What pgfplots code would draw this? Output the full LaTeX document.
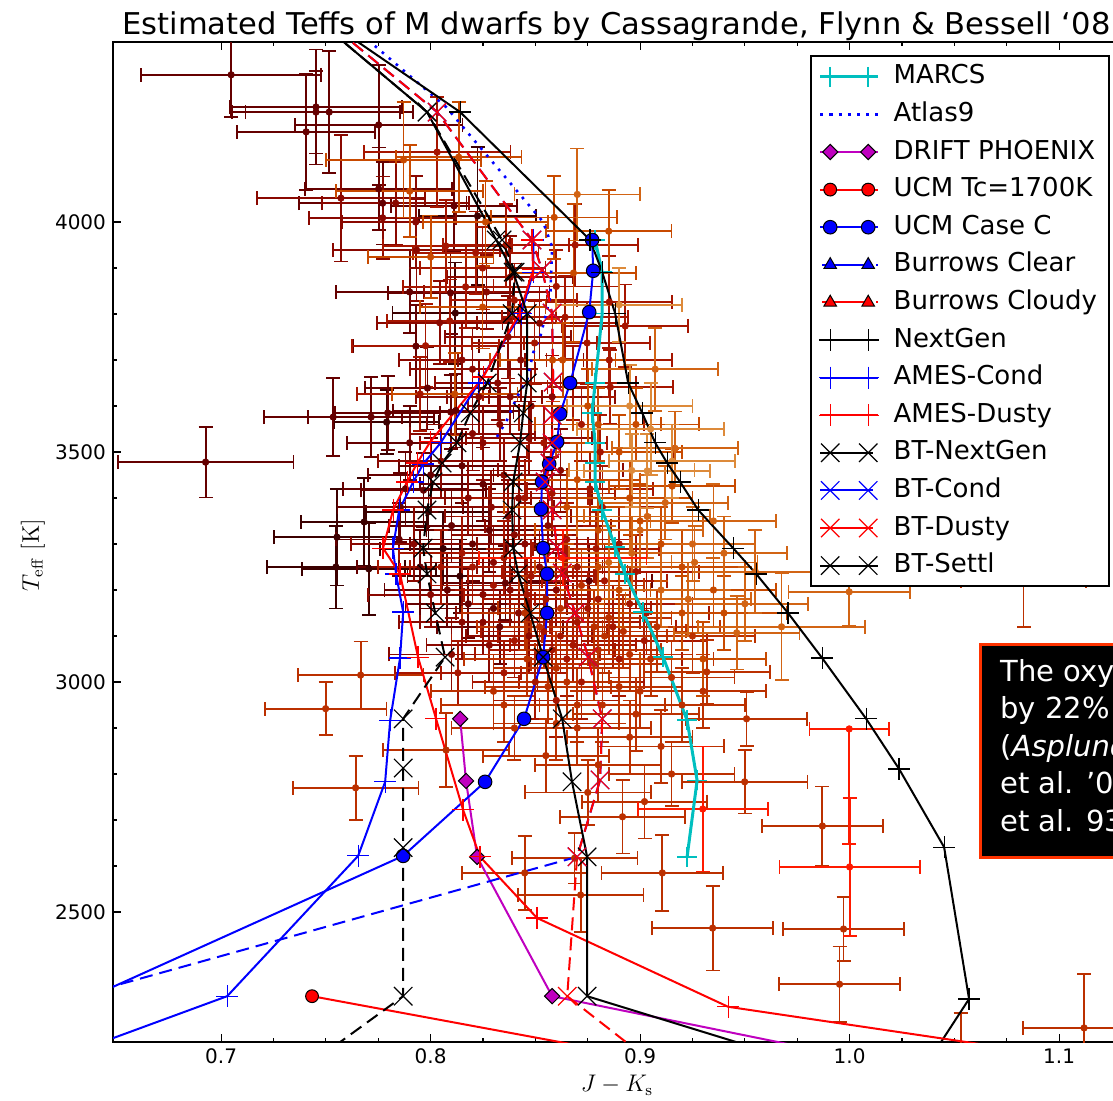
\documentclass[border=0pt]{standalone}
\usepackage{pgfplots}
\pgfplotsset{compat=1.18}
\usepackage{pgfplotstable}
\usepackage[no-math]{fontspec}
\setmainfont{DejaVu Sans}
\usepackage{graphicx}

\definecolor{cA}{HTML}{3C0000}
\definecolor{cB}{HTML}{650000}
\definecolor{cC}{HTML}{8A0800}
\definecolor{cD}{HTML}{A61500}
\definecolor{cE}{HTML}{BB3000}
\definecolor{cF}{HTML}{C84A00}
\definecolor{cG}{HTML}{D26414}
\definecolor{cH}{HTML}{DD8A3A}
\definecolor{cR}{HTML}{FF1A00}
\definecolor{mcyan}{HTML}{00BFBF}
\definecolor{mmag}{HTML}{BF00BF}
\definecolor{boxred}{HTML}{FF3300}

\pgfplotstableread{
x y ex ey
0.7553 3315 0.030 105
0.7548 3250 0.033 90
0.7705 3246 0.032 100
0.7683 3348 0.030 95
0.7790 3565 0.025 70
0.7990 3370 0.030 80
0.8224 4013 0.028 150
0.8060 3290 0.030 80
0.8140 3230 0.025 80
0.8118 3802 0.030 110
}\dA
\pgfplotstableread{
x y ex ey
0.7048 4320 0.043 92
0.7453 4250 0.041 125
0.7453 4239 0.040 90
0.7516 4239 0.040 133
0.7406 4196 0.033 127
0.7752 4211 0.040 130
0.7752 4072 0.035 90
0.7771 4041 0.040 90
0.8112 4035 0.030 100
0.7900 3848 0.035 90
0.8095 3846 0.030 90
0.7535 3576 0.033 85
0.7716 3576 0.030 87
0.7985 3639 0.030 90
0.6926 3478 0.042 77
0.7900 3520 0.030 80
0.7966 3417 0.030 80
0.7856 3380 0.030 75
0.8096 3587 0.030 80
0.7795 3585 0.025 80
0.8150 3470 0.030 80
0.8280 3330 0.030 90
0.8250 3430 0.030 80
0.7930 3730 0.030 90
0.8357 3215 0.030 80
0.8757 3220 0.030 80
0.8120 3590 0.030 80
0.8300 3160 0.035 70
0.8200 3300 0.030 80
0.7950 3250 0.030 80
0.7850 3310 0.030 80
0.8100 3340 0.030 80
0.8000 3450 0.030 80
0.8180 3170 0.030 75
0.8330 3120 0.030 80
0.8080 3200 0.030 80
0.7880 3420 0.030 80
}\dB
\pgfplotstableread{
x y ex ey
0.7833 4041 0.035 90
0.7929 4000 0.035 100
0.7933 3939 0.040 110
0.7572 4052 0.040 138
0.7771 4009 0.035 90
0.8043 3781 0.030 90
0.8430 3700 0.030 90
0.8380 3620 0.030 80
0.8330 3560 0.035 80
0.8200 3680 0.030 90
0.8250 3520 0.030 80
0.8350 3450 0.030 80
0.8420 3400 0.035 90
0.8180 3400 0.030 80
0.8300 3260 0.030 80
0.8450 3300 0.030 90
0.8380 3200 0.030 80
0.8470 3100 0.030 80
0.8250 3130 0.030 70
0.8600 3200 0.030 80
0.8560 3340 0.030 80
0.8620 3460 0.030 90
0.8580 3620 0.030 90
0.8100 3060 0.030 80
0.8000 3190 0.030 70
0.8230 3620 0.030 80
0.8370 3750 0.030 90
0.8150 3700 0.030 80
0.8050 3480 0.030 80
0.7920 3300 0.030 80
0.8320 3650 0.030 80
0.8470 3530 0.030 80
0.8400 3320 0.030 80
0.8250 3190 0.030 80
0.8520 3780 0.030 80
0.8380 3880 0.030 90
0.8267 3848 0.030 80
0.8420 3150 0.030 80
0.8520 3250 0.030 80
0.8280 3080 0.030 80
0.8150 3130 0.030 80
0.8370 3360 0.030 80
0.8200 3540 0.030 80
0.8480 3600 0.030 80
0.8290 3380 0.030 80
}\dC
\pgfplotstableread{
x y ex ey
0.8031 4152 0.035 120
0.8072 3948 0.030 100
0.8215 3933 0.030 90
0.8248 3900 0.030 90
0.7976 3731 0.035 90
0.8091 3785 0.030 90
0.8167 3859 0.030 90
0.8496 3737 0.030 90
0.8642 3793 0.030 90
0.8853 3826 0.030 100
0.8747 3737 0.030 90
0.8929 3774 0.030 90
0.8853 3700 0.030 80
0.8858 3641 0.030 80
0.8810 3500 0.035 80
0.8760 3420 0.030 80
0.8820 3380 0.030 90
0.8900 3300 0.030 80
0.8700 3250 0.030 80
0.8800 3180 0.030 80
0.8870 3120 0.030 90
0.8650 3050 0.030 80
0.8500 3000 0.030 80
0.8600 2960 0.030 80
0.8350 3020 0.030 70
0.8720 3000 0.030 80
0.8900 3050 0.030 80
0.8450 3400 0.030 80
0.8540 3520 0.030 80
0.8680 3650 0.030 80
0.8400 3830 0.030 80
0.8360 3950 0.030 90
0.8690 3950 0.030 90
0.8980 3240 0.030 80
0.9030 3150 0.030 90
0.8130 3020 0.030 70
0.8580 3410 0.030 80
0.8200 3250 0.030 80
0.8350 3270 0.030 80
0.8480 3230 0.030 80
0.8550 3180 0.030 80
0.8620 3100 0.030 80
0.8750 3160 0.030 80
0.8830 3220 0.030 80
0.8680 3080 0.030 80
0.8580 3070 0.030 80
0.8400 3090 0.030 80
0.8300 3210 0.030 80
0.8150 3280 0.030 80
0.8050 3250 0.030 80
0.8950 3170 0.030 80
0.9020 3090 0.030 80
0.8600 3860 0.030 80
0.7950 3626 0.030 80
0.8540 3110 0.030 80
0.8700 3130 0.030 80
0.8460 3190 0.030 80
0.8640 3240 0.030 80
0.8790 3290 0.030 80
0.8510 3060 0.030 80
0.8720 3560 0.030 80
0.8650 3310 0.030 80
}\dD
\pgfplotstableread{
x y ex ey
0.7666 3015 0.030 73
0.7499 2942 0.029 58
0.7642 2770 0.030 70
0.8074 2852 0.030 80
0.8687 2617 0.030 55
0.8449 2585 0.030 80
0.8716 2537 0.030 80
0.8916 2707 0.030 80
0.9021 2740 0.030 80
0.9318 3022 0.030 70
0.9508 2920 0.029 59
0.9499 2783 0.030 69
0.9870 2687 0.029 86
0.9106 2585 0.029 83
0.9346 2465 0.029 92
0.9971 2463 0.029 69
0.9952 2343 0.029 82
1.1119 2248 0.029 118
1.0530 2150 0.030 130
1.0830 3220 0.030 100
0.8950 2880 0.030 80
0.9200 2950 0.030 80
0.8800 2820 0.030 80
0.8550 2840 0.030 80
0.8700 2900 0.035 80
0.8400 2900 0.030 70
0.9100 2860 0.030 80
0.9300 2980 0.030 80
0.8820 2950 0.030 80
0.9000 2980 0.030 80
0.8600 3030 0.030 80
0.8800 3070 0.030 80
0.9050 3050 0.030 80
0.9150 3010 0.030 80
0.8450 3150 0.030 80
0.9250 3100 0.030 80
0.8300 2980 0.030 80
0.9150 2800 0.030 70
0.8750 2760 0.030 70
0.8720 3210 0.030 80
0.8850 3140 0.030 80
0.8950 3060 0.030 80
0.8650 3000 0.030 80
0.8520 3120 0.030 80
0.8780 3040 0.030 80
0.8600 2910 0.030 80
0.8900 2990 0.030 80
0.9080 3120 0.030 80
0.8460 3050 0.030 80
0.8350 2950 0.030 80
0.8780 3120 0.030 80
0.8620 3160 0.030 80
0.8830 3100 0.030 80
0.8560 2990 0.030 80
0.8920 3110 0.030 80
0.8700 2950 0.030 80
0.8980 2930 0.030 80
}\dE
\pgfplotstableread{
x y ex ey
0.7871 4135 0.037 125
0.7900 4067 0.035 100
0.8000 3924 0.030 90
0.8248 3815 0.030 90
0.8262 4000 0.030 90
0.8134 4141 0.030 120
0.8115 3626 0.030 90
0.9153 3426 0.030 80
0.9000 3350 0.030 80
0.9100 3300 0.030 80
0.9200 3250 0.030 80
0.9350 3200 0.030 80
0.9400 3150 0.030 80
0.9300 3050 0.030 80
0.9200 3150 0.030 80
0.8900 3200 0.030 80
0.8800 3250 0.030 80
0.8950 3400 0.030 80
0.8682 3889 0.030 150
0.8582 3700 0.030 90
0.8800 3330 0.030 80
0.8900 3500 0.030 80
0.8700 3440 0.030 80
0.8650 3380 0.030 80
0.8750 3600 0.030 80
0.8630 3700 0.030 80
0.8800 3560 0.030 80
0.8980 3560 0.030 80
0.8850 3980 0.030 90
0.8590 4010 0.030 90
}\dF
\pgfplotstableread{
x y ex ey
0.9072 3680 0.030 90
0.9167 3508 0.030 80
0.9034 3360 0.030 90
0.9000 3330 0.030 80
0.9260 3260 0.030 80
0.9998 3196 0.029 73
0.9675 3120 0.040 116
0.9461 3107 0.030 80
0.9550 3240 0.030 90
0.9500 3170 0.030 80
0.9250 3300 0.030 80
0.8850 3260 0.030 80
0.8960 3280 0.030 80
0.9120 3390 0.030 80
0.9350 3350 0.030 80
0.9100 3200 0.030 80
0.9230 3180 0.030 80
0.9400 3280 0.030 80
0.8700 4060 0.030 100
}\dG
\pgfplotstableread{
x y ex ey
0.9153 3480 0.030 80
0.9034 3459 0.030 80
0.8960 3460 0.030 80
0.9050 3550 0.035 100
0.8950 3600 0.030 90
0.8900 3820 0.030 80
}\dH
\pgfplotstableread{
x y ex ey
0.9299 2724 0.031 136
1.0000 2598 0.0335 150
0.8630 3270 0.040 60
}\dR

\pgfplotsset{
  databars/.style={forget plot, only marks, color=#1, mark=*, mark size=1.6pt,
    error bars/.cd, x dir=both, x explicit, y dir=both, y explicit,
    error bar style={line width=0.9pt},
    error mark options={rotate=90, mark size=3.5pt, line width=0.9pt}},
}

\begin{document}
\begin{tikzpicture}
\useasboundingbox (-56.5pt,-29pt) rectangle (500pt,521pt);
\begin{scope}
\clip (-56.5pt,-29pt) rectangle (500pt,521pt);
\begin{axis}[
  at={(0pt,0pt)}, anchor=south west, scale only axis,
  width=513.5pt, height=500pt,
  xmin=0.6484, xmax=1.1386, ymin=2217.4, ymax=4391.3,
  xtick={0.7,0.8,0.9,1.0,1.1}, ytick={2500,3000,3500,4000},
  minor x tick num=3, minor y tick num=4,
  tick align=inside, tick pos=both,
  major tick length=4pt, minor tick length=2pt,
  every tick/.append style={black, line width=0.6pt},
  axis line style={line width=1pt},
  xticklabel style={/pgf/number format/fixed, /pgf/number format/fixed zerofill, /pgf/number format/precision=1},
  /pgf/number format/1000 sep={},
  /pgf/number format/assume math mode=true,
  tick label style={font=\fontsize{10}{12}\selectfont},
  legend cell align=left,
  legend style={at={(0.9708,0.987)}, anchor=north east, draw=black, line width=1pt, fill=white,
    font=\fontsize{13}{15}\selectfont, inner xsep=4pt, inner ysep=1pt, row sep=0pt, column sep=5pt,
    nodes={inner xsep=2pt, inner ysep=3.1pt, text height=9.8pt, text depth=2.8pt}},
  legend image code/.code={
    \path (-5pt,0pt) -- (24pt,0pt);
    \draw[mark repeat=2, mark phase=1, #1] plot coordinates {(0pt,0pt) (9.5pt,0pt) (19pt,0pt)};
  },
]
% ---- data
\addplot[databars=cA] table[x=x,y=y,x error=ex,y error=ey] {\dA};
\addplot[databars=cB] table[x=x,y=y,x error=ex,y error=ey] {\dB};
\addplot[databars=cC] table[x=x,y=y,x error=ex,y error=ey] {\dC};
\addplot[databars=cD] table[x=x,y=y,x error=ex,y error=ey] {\dD};
\addplot[databars=cE] table[x=x,y=y,x error=ex,y error=ey] {\dE};
\addplot[databars=cF] table[x=x,y=y,x error=ex,y error=ey] {\dF};
\addplot[databars=cG] table[x=x,y=y,x error=ex,y error=ey] {\dG};
\addplot[databars=cH] table[x=x,y=y,x error=ex,y error=ey] {\dH};
\addplot[databars=cR] table[x=x,y=y,x error=ex,y error=ey] {\dR};
\addplot[databars=cR] coordinates {(0.9998,2898) += (0.019,0) -= (0.019,250)};
% ---- models
\addplot[color=mcyan, line width=1.5pt, mark=+, mark size=5pt, mark options={line width=0.8pt}] coordinates {
(0.8785,3961) (0.8819,3891) (0.8819,3801) (0.8785,3650) (0.8771,3585) (0.8785,3520) (0.8785,3476) (0.8785,3435)
(0.8819,3374) (0.8881,3293) (0.8928,3235) (0.9014,3152) (0.9110,3054) (0.9224,2917) (0.9272,2786) (0.9224,2619)};
\addlegendentry{MARCS}
\addplot[blue, line width=1.3pt, dash pattern=on 1.3pt off 3.3pt] coordinates {
(0.7434,4500) (0.8074,4250) (0.8537,4000) (0.8580,3946) (0.8571,3837) (0.8523,3750) (0.8489,3715) (0.8461,3657)
(0.8413,3620) (0.8365,3570) (0.8308,3526)};
\addlegendentry{Atlas9}
\addplot[mmag, line width=1pt, mark=square*, mark size=2.7pt, mark options={rotate=45, fill=mmag, draw=black, line width=0.5pt}] coordinates {
(0.8141,2920) (0.8169,2785) (0.8222,2620) (0.8580,2317) (0.9845,2200)};
\addlegendentry{DRIFT PHOENIX}
\addplot[red, line width=1pt, mark=*, mark size=3.2pt, mark options={fill=red, draw=black, line width=0.5pt}] coordinates {
(0.7434,2317) (0.8823,2200)};
\addlegendentry{UCM Tc=1700K}
\addplot[blue, line width=1pt, mark=*, mark size=3.4pt, mark options={fill=blue, draw=black, line width=0.5pt}] coordinates {
(0.8771,3961) (0.8776,3894) (0.8757,3804) (0.8666,3650) (0.8618,3583) (0.8604,3522) (0.8566,3474) (0.8532,3435)
(0.8527,3376) (0.8537,3291) (0.8556,3235) (0.8556,3150) (0.8537,3054) (0.8446,2920) (0.8260,2783) (0.7869,2622) (0.6400,2320)};
\addlegendentry{UCM Case C}
\addlegendimage{blue, line width=1pt, dash pattern=on 5pt off 4pt, dash phase=-1pt, mark=triangle*, mark size=3.6pt, mark options={solid, fill=blue, draw=black, line width=0.5pt}}
\addlegendentry{Burrows Clear}
\addlegendimage{red, line width=1pt, dash pattern=on 5pt off 4pt, dash phase=-1pt, mark=triangle*, mark size=3.6pt, mark options={solid, fill=red, draw=black, line width=0.5pt}}
\addlegendentry{Burrows Cloudy}
\addplot[black, line width=1pt, mark=+, mark size=5.5pt, mark options={line width=0.6pt}] coordinates {
(0.7305,4500) (0.8141,4239) (0.8761,3961) (0.8819,3891) (0.8881,3801) (0.8943,3650) (0.9010,3585) (0.9072,3520)
(0.9129,3476) (0.9191,3435) (0.9277,3374) (0.9444,3291) (0.9554,3235) (0.9706,3150) (0.9869,3052) (1.0079,2920)
(1.0236,2811) (1.0451,2641) (1.0570,2311) (1.0380,2178)};
\addlegendentry{NextGen}
\addplot[blue, line width=1pt, mark=+, mark size=5.5pt, mark options={line width=0.6pt}] coordinates {
(0.8490,3961) (0.8490,3891) (0.8432,3801) (0.8230,3650) (0.8048,3520) (0.7965,3474) (0.7917,3435) (0.7850,3374)
(0.7820,3291) (0.7835,3235) (0.7869,3152) (0.7854,3052) (0.7807,2917) (0.7783,2783) (0.7654,2622) (0.7029,2317) (0.6330,2200)};
\addlegendentry{AMES-Cond}
\addplot[red, line width=1pt, mark=+, mark size=5.5pt, mark options={line width=0.6pt}] coordinates {
(0.8484,3961) (0.8489,3896) (0.8427,3804) (0.8251,3663) (0.7998,3522) (0.7936,3476) (0.7888,3435) (0.7821,3374)
(0.7773,3291) (0.7854,3235) (0.7940,3054) (0.8026,2920) (0.8155,2722) (0.8236,2620) (0.8508,2487) (0.9420,2294) (1.0814,2200)};
\addlegendentry{AMES-Dusty}
\addplot[black, line width=1pt, dash pattern=on 6.5pt off 3.5pt, mark=x, mark size=6.5pt, mark options={solid, line width=0.6pt}] coordinates {
(0.7301,4500) (0.7983,4239) (0.8341,3961) (0.8403,3891) (0.8389,3801) (0.8270,3650) (0.8189,3585) (0.8126,3520)
(0.8055,3476) (0.8012,3435) (0.7983,3374) (0.7964,3291) (0.7983,3235) (0.8022,3150) (0.8069,3054) (0.7869,2920)
(0.7869,2813) (0.7869,2640) (0.7869,2317) (0.7516,2200)};
\addlegendentry{BT-NextGen}
\addplot[blue, line width=1pt, dash pattern=on 6.5pt off 3.5pt, mark=x, mark size=6.5pt, mark options={solid, line width=0.6pt}] coordinates {
(0.7334,4500) (0.8031,4239) (0.8484,3961) (0.8532,3896) (0.8580,3802) (0.8585,3652) (0.8580,3580) (0.8580,3520)
(0.8570,3476) (0.8547,3435) (0.8580,3374) (0.8604,3293) (0.8628,3237) (0.8690,3150) (0.8752,3054) (0.8819,2920)
(0.8809,2787) (0.8699,2620) (0.6313,2317)};
\addlegendentry{BT-Cond}
\addplot[red, line width=1pt, dash pattern=on 6.5pt off 3.5pt, mark=x, mark size=6.5pt, mark options={solid, line width=0.6pt}] coordinates {
(0.7334,4500) (0.8031,4239) (0.8484,3961) (0.8532,3896) (0.8580,3802) (0.8585,3652) (0.8580,3580) (0.8580,3520)
(0.8570,3476) (0.8547,3435) (0.8580,3374) (0.8604,3293) (0.8628,3237) (0.8690,3150) (0.8752,3054) (0.8819,2920)
(0.8809,2787) (0.8699,2620) (0.8652,2317) (0.8981,2200)};
\addlegendentry{BT-Dusty}
\addplot[black, line width=1pt, mark=x, mark size=6.5pt, mark options={line width=0.6pt}] coordinates {
(0.7301,4500) (0.7983,4239) (0.8313,3961) (0.8394,3891) (0.8461,3801) (0.8461,3650) (0.8442,3585) (0.8427,3520)
(0.8394,3435) (0.8389,3374) (0.8394,3291) (0.8418,3235) (0.8475,3150) (0.8537,3054) (0.8628,2920) (0.8675,2783)
(0.8747,2620) (0.8747,2317) (0.9582,2200)};
\addlegendentry{BT-Settl}
\end{axis}
% title
\node[anchor=base west, inner sep=0pt] at (4.5pt,503.5pt)
  {\resizebox{494pt}{\height}{\fontsize{15}{18}\selectfont Estimated Teffs of M dwarfs by Cassagrande, Flynn \& Bessell ‘08}};
% axis labels
\node[rotate=90, font=\fontsize{12}{14}\selectfont] at (-40pt,243.5pt) {$T_{\mathrm{eff}}\ [\mathrm{K}]$};
\node[font=\fontsize{12}{14}\selectfont] at (252pt,-21.5pt) {$J-K_{\mathrm{s}}$};
% annotation box
\draw[fill=black, draw=boxred, line width=1.5pt] (433.5pt,92.5pt) rectangle (650pt,199pt);
\node[anchor=north west, align=left, text=white, inner sep=0pt, font=\fontsize{14.5}{18.75}\selectfont]
  at (443.5pt,191.5pt) {The oxygen abundance\\by 22\% lower\\(\textit{Asplund}\\et al. '07\\et al. 93)};
\end{scope}
\end{tikzpicture}
\end{document}
